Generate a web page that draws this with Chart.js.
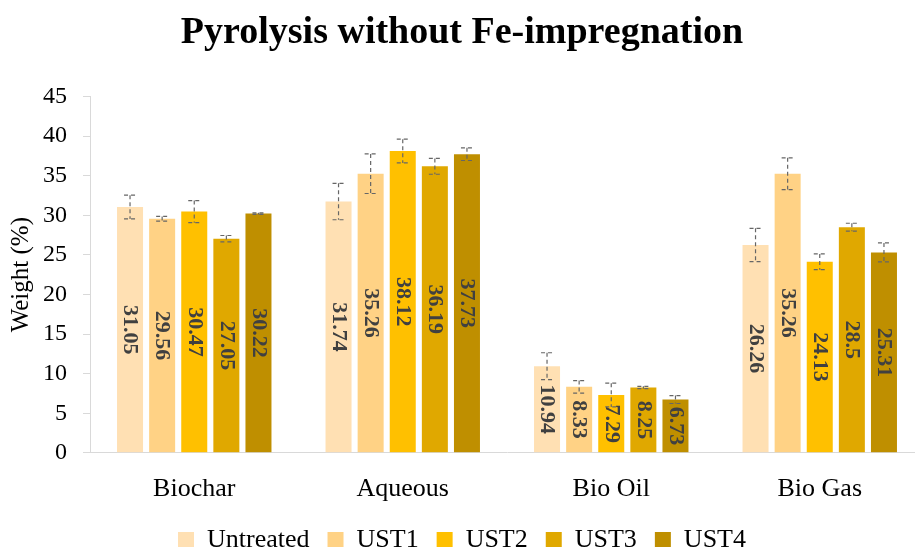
<!DOCTYPE html>
<html>
<head>
<meta charset="utf-8">
<script src="https://cdn.jsdelivr.net/npm/chart.js@4"></script>
<style>
  html, body { margin: 0; padding: 0; background: #fff; overflow: hidden; }
  /* the original chart is wider than the picture and cut at the right */
  #wrap { width: 944px; height: 547px; }
</style>
</head>
<body>
<div id="wrap"><canvas id="chart"></canvas></div>
<script>
const categories = ["Biochar", "Aqueous", "Bio Oil", "Bio Gas"]
const seriesNames = ["Untreated", "UST1", "UST2", "UST3", "UST4"]
const untreated = [31.05, 31.74, 10.94, 26.26]
const ust1 = [29.56, 35.26, 8.33, 35.26]
const ust2 = [30.47, 38.12, 7.29, 24.13]
const ust3 = [27.05, 36.19, 8.25, 28.5]
const ust4 = [30.22, 37.73, 6.73, 25.31]
// error bar half-widths
const errUntreated = [1.5, 2.3, 1.7, 2.1]
const errUst1 = [0.3, 2.5, 0.8, 2.0]
const errUst2 = [1.4, 1.5, 1.5, 1.0]
const errUst3 = [0.4, 1.0, 0.15, 0.5]
const errUst4 = [0.1, 0.8, 0.5, 1.2]

const values = [untreated, ust1, ust2, ust3, ust4]
const errors = [errUntreated, errUst1, errUst2, errUst3, errUst4]
const colors = ["#FFE0B3", "#FFD285", "#FFC000", "#E0A800", "#BF8F00"]

const serif = "'Liberation Serif', 'Times New Roman', serif"

// dashed whiskers plus rotated value labels inside the bars
const barExtras = {
  id: "barExtras",
  afterDatasetsDraw(chart) {
    const ctx = chart.ctx
    const y = chart.scales.y
    chart.data.datasets.forEach((ds, i) => {
      const meta = chart.getDatasetMeta(i)
      meta.data.forEach((bar, j) => {
        const v = ds.data[j]
        // value label
        ctx.save()
        ctx.translate(bar.x, (bar.y + bar.base) / 2)
        ctx.rotate(Math.PI / 2)
        ctx.font = "bold 22px " + serif
        ctx.fillStyle = "#404040"
        ctx.textAlign = "center"
        ctx.textBaseline = "middle"
        ctx.fillText(String(v), 0, 0)
        ctx.restore()
        // error bar
        const e = errors[i][j]
        const top = y.getPixelForValue(v + e)
        const bot = y.getPixelForValue(v - e)
        ctx.save()
        ctx.strokeStyle = "#666"
        ctx.lineWidth = 1.2
        ctx.setLineDash([4, 3])
        ctx.beginPath()
        ctx.moveTo(bar.x, top)
        ctx.lineTo(bar.x, bot)
        ctx.moveTo(bar.x - 6, top)
        ctx.lineTo(bar.x + 6, top)
        ctx.moveTo(bar.x - 6, bot)
        ctx.lineTo(bar.x + 6, bot)
        ctx.stroke()
        ctx.restore()
      })
    })
  }
}

new Chart(document.getElementById("chart"), {
  type: "bar",
  data: {
    labels: categories,
    datasets: seriesNames.map((name, i) => ({
      label: name,
      data: values[i],
      backgroundColor: colors[i],
      borderWidth: 0,
      categoryPercentage: 0.77,
      barPercentage: 0.81,
    })),
  },
  options: {
    responsive: true,
    maintainAspectRatio: false,
    animation: false,
    layout: { padding: { left: 0, right: 20, top: 0, bottom: -16 } },
    plugins: {
      title: {
        display: true,
        text: "Pyrolysis without Fe-impregnation",
        color: "#000",
        font: { family: serif, size: 38, weight: "bold" },
        padding: { top: 10, bottom: 41 },
      },
      legend: {
        position: "bottom",
        labels: {
          color: "#000",
          font: { family: serif, size: 26 },
          boxWidth: 16,
          boxHeight: 16,
          padding: 18,
        },
      },
      tooltip: { enabled: false },
    },
    scales: {
      x: {
        grid: { display: false },
        border: { color: "#d9d9d9", width: 1 },
        ticks: { color: "#000", font: { family: serif, size: 26 }, padding: 13 },
        afterFit(scale) { scale.height -= 9 },
      },
      y: {
        min: 0,
        max: 45,
        ticks: { stepSize: 5, color: "#000", font: { family: serif, size: 24 }, padding: 16 },
        grid: { drawOnChartArea: false, drawTicks: true, tickLength: 7, color: "#d9d9d9" },
        border: { color: "#d9d9d9", width: 1 },
        title: {
          display: true,
          text: "Weight (%)",
          color: "#000",
          font: { family: serif, size: 25 },
          padding: { top: 6, bottom: 0 },
        },
        afterFit(scale) { scale.width = 90 },
      },
    },
  },
  plugins: [barExtras],
})
</script>
</body>
</html>
